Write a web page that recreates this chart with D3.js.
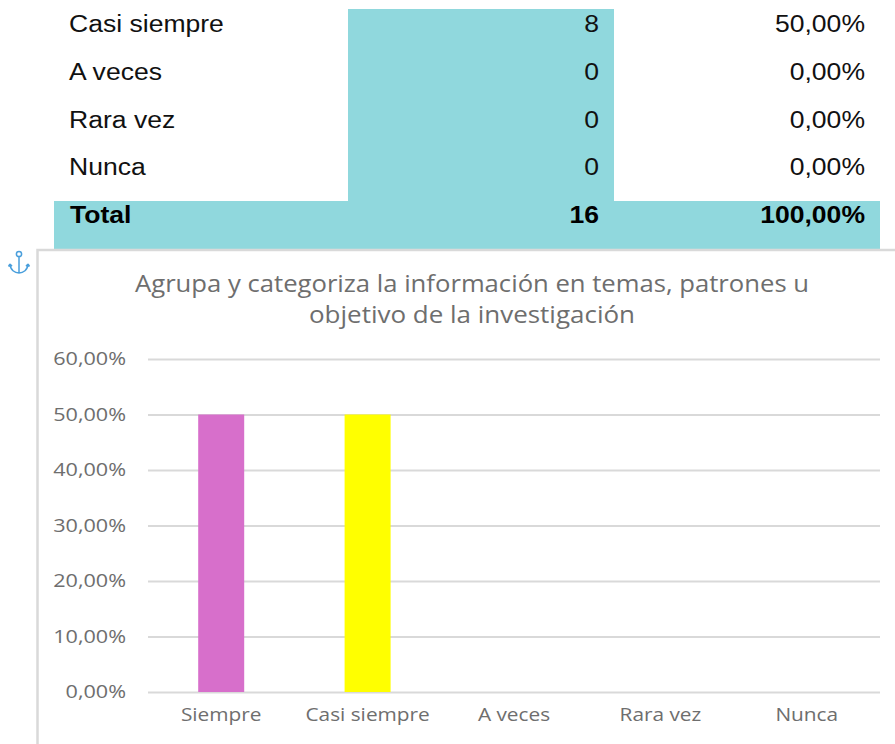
<!DOCTYPE html>
<html>
<head>
<meta charset="utf-8">
<script src="https://cdn.jsdelivr.net/npm/d3@7"></script>
<style>
  html, body { margin: 0; padding: 0; background: #fff; overflow: hidden; }
  svg { display: block; }
</style>
</head>
<body>
<svg id="chart" width="895" height="744"></svg>
<script>
const categories = ["Siempre", "Casi siempre", "A veces", "Rara vez", "Nunca"];
const percentages = [50, 50, 0, 0, 0];
const barColors = ["#d76fcb", "#ffff00", "#5b9bd5", "#a5a5a5", "#ffc000"];
const yTicks = [0, 10, 20, 30, 40, 50, 60];

const tableLabels = ["Casi siempre", "A veces", "Rara vez", "Nunca"];
const tableCounts = [8, 0, 0, 0];
const tablePercents = ["50,00%", "0,00%", "0,00%", "0,00%"];
const totalRow = ["Total", "16", "100,00%"];

const titleLines = [
  "Agrupa y categoriza la información en temas, patrones u",
  "objetivo de la investigación"
];

const svg = d3.select("#chart");
const tableFont = "'Liberation Sans', Arial, sans-serif";
const chartFont = "'Open Sans', sans-serif";
const teal = "#90d8dd";
const grey = "#6e6e6e";

// the source is a screenshot stretched sideways, so text gets a horizontal scale
const tableStretch = 1.13;
const tickStretch = 1.2;
const labelStretch = 1.19;

const rowY = d3.scalePoint().domain(d3.range(5)).range([24, 215]);
const table = svg.append("g").attr("font-family", tableFont).attr("font-size", 23.5).attr("fill", "#111");

table.append("rect").attr("x", 348).attr("y", 9).attr("width", 266).attr("height", 200).attr("fill", teal);
table.append("rect").attr("x", 54).attr("y", 201).attr("width", 826).attr("height", 48).attr("fill", teal);

function cell(parent, x, y, value, anchor) {
  parent.append("text")
    .attr("transform", `translate(${x},${y}) scale(${tableStretch},1)`)
    .attr("dy", "0.35em")
    .attr("text-anchor", anchor)
    .text(value);
}

tableLabels.forEach((label, i) => {
  cell(table, 69, rowY(i), label, "start");
  cell(table, 599, rowY(i), tableCounts[i], "end");
  cell(table, 865, rowY(i), tablePercents[i], "end");
});

const totals = table.append("g").attr("font-weight", 700).attr("fill", "#000");
cell(totals, 70, rowY(4), totalRow[0], "start");
cell(totals, 599, rowY(4), totalRow[1], "end");
cell(totals, 865, rowY(4), totalRow[2], "end");

// chart frame
svg.append("rect").attr("x", 37.5).attr("y", 250).attr("width", 900).attr("height", 540)
  .attr("fill", "#fff").attr("stroke", "#d9d9d9").attr("stroke-width", 2.5);

// anchor icon
const anchor = svg.append("g").attr("fill", "none").attr("stroke", "#4a9fdc").attr("stroke-width", 1.5)
  .attr("transform", "translate(19,263)");
anchor.append("circle").attr("cx", 0).attr("cy", -9).attr("r", 2.6);
anchor.append("path").attr("d", "M0,-6.5V10M-9,1C-9,7 -4,10 0,10C4,10 9,7 9,1M-9,1l-1.5,2.5M-9,1l2,2.2M9,1l1.5,2.5M9,1l-2,2.2");

// title
const title = svg.append("g").attr("font-family", chartFont).attr("font-size", 23).attr("fill", grey)
  .attr("text-anchor", "middle");
titleLines.forEach((line, i) => {
  title.append("text").attr("x", 472).attr("y", 284 + i * 31).attr("dy", "0.35em").attr("textLength", i === 0 ? 674 : 326)
    .attr("lengthAdjust", "spacingAndGlyphs").text(line);
});

// scales
const x = d3.scaleBand().domain(categories).range([148, 880]);
const y = d3.scaleLinear().domain([0, 60]).range([692, 359]);
const barWidth = 46;

const gridAxis = svg.append("g")
  .attr("transform", "translate(148,0)")
  .call(d3.axisLeft(y).tickValues(yTicks).tickSize(-732).tickPadding(22)
    .tickFormat(d => d3.format(".2f")(d).replace(".", ",") + "%"));
gridAxis.select(".domain").remove();
gridAxis.selectAll("line").attr("stroke", "#d9d9d9").attr("stroke-width", 2);
gridAxis.selectAll("text")
  .attr("font-family", chartFont).attr("font-size", 18).attr("fill", grey)
  .attr("x", -22 / tickStretch)
  .attr("transform", `scale(${tickStretch},1)`);

const xAxis = svg.append("g")
  .attr("transform", "translate(0,692)")
  .call(d3.axisBottom(x).tickSize(0).tickPadding(17));
xAxis.select(".domain").remove();
xAxis.selectAll("text")
  .attr("font-family", chartFont).attr("font-size", 17.5).attr("fill", grey)
  .attr("transform", `scale(${labelStretch},1)`);

// bars
svg.append("g").selectAll("rect")
  .data(percentages)
  .enter()
  .append("rect")
  .attr("x", (d, i) => x(categories[i]) + (x.bandwidth() - barWidth) / 2)
  .attr("y", d => y(d))
  .attr("width", barWidth)
  .attr("height", d => y(0) - y(d))
  .attr("fill", (d, i) => barColors[i]);
</script>
</body>
</html>
